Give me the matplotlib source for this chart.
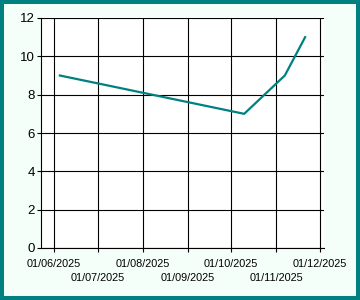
import matplotlib
matplotlib.use("Agg")
import matplotlib.pyplot as plt
import matplotlib.dates as mdates
from matplotlib.patches import Rectangle
import datetime as dt

dates = ["2025-06-05", "2025-10-10", "2025-11-07", "2025-11-21"]
values = [9, 7, 9, 11]
tick_dates = ["2025-06-01", "2025-07-01", "2025-08-01", "2025-09-01",
              "2025-10-01", "2025-11-01", "2025-12-01"]
y_ticks = [0, 2, 4, 6, 8, 10, 12]

plt.rcParams['font.family'] = ['Liberation Sans', 'DejaVu Sans']

fig = plt.figure(figsize=(3.6, 3.0), dpi=100)
fig.patch.set_facecolor("#008080")
fig.patches.append(Rectangle((4/360, 4/300), (360-8)/360, (300-8)/300,
                             transform=fig.transFigure, facecolor="#f5fffa",
                             edgecolor="none", zorder=-5))

ax = fig.add_axes([41/360, 52/300, 283/360, 230/300])
ax.set_zorder(1)
ax.set_facecolor("white")

xd = [dt.datetime.fromisoformat(d) for d in dates]
td = [dt.datetime.fromisoformat(d) for d in tick_dates]

ax.plot(xd, values, color="#008080", lw=1.6, zorder=3)

ax.set_xlim(dt.datetime(2025, 5, 23), dt.datetime(2025, 12, 4))
ax.set_ylim(0, 12)
ax.set_yticks(y_ticks)
ax.set_xticks(td)
ax.xaxis.set_major_formatter(mdates.DateFormatter("%d/%m/%Y"))

ax.grid(True, color="black", lw=0.8)
ax.set_axisbelow(True)
for s in ["top", "right"]:
    ax.spines[s].set_visible(False)
for s in ["left", "bottom"]:
    ax.spines[s].set_color("black")
    ax.spines[s].set_linewidth(0.8)

ax.tick_params(axis="y", labelsize=9.5, length=3, width=0.8, pad=1.5, colors="black")
ax.tick_params(axis="x", labelsize=7.8, length=3, width=0.8, pad=5, colors="black")
for i, t in enumerate(ax.xaxis.get_major_ticks()):
    if i % 2 == 1:
        t.set_pad(15)

fig.savefig("out.png", dpi=100, facecolor=fig.get_facecolor())
